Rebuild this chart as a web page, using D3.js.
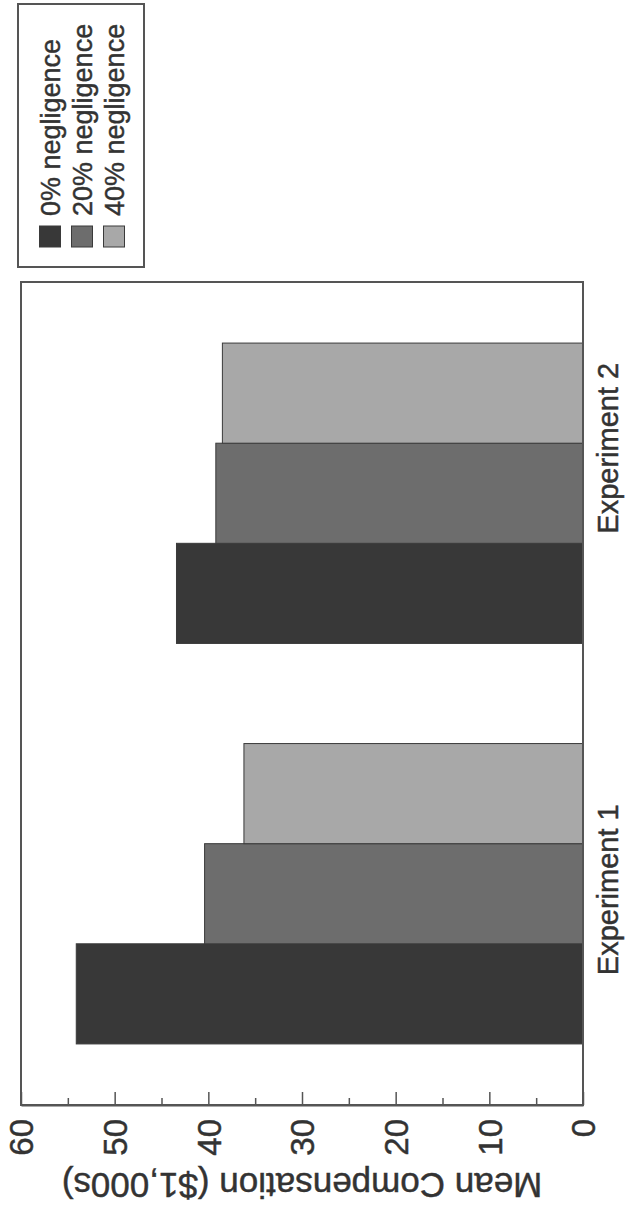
<!DOCTYPE html>
<html>
<head>
<meta charset="utf-8">
<script src="https://cdn.jsdelivr.net/npm/d3@7"></script>
<style>
  html, body { margin: 0; padding: 0; background: #ffffff; }
  text { font-family: "Liberation Sans", Arial, sans-serif; fill: #333333; stroke: #333333; stroke-width: 0.45px; }
</style>
</head>
<body>
<svg id="chart" width="629" height="1208"></svg>
<script>
// ---- data ----
const categories = ["Experiment 1", "Experiment 2"];
const seriesNames = ["0% negligence", "20% negligence", "40% negligence"];
const values0 = [54.1, 43.4];   // 0% negligence
const values20 = [40.4, 39.2];  // 20% negligence
const values40 = [36.2, 38.5];  // 40% negligence
const majorTicks = [0, 10, 20, 30, 40, 50, 60];
const minorTicks = [5, 15, 25, 35, 45, 55];
const axisTitle = "Mean Compensation ($1,000s)";

// ---- layout / style ----
const colors = ["#383838", "#6d6d6d", "#a8a8a8"];
const plot = { left: 21, right: 583, top: 282, bottom: 1105 };
const labelShift = [-4, -45];

const svg = d3.select("#chart");
const series = [values0, values20, values40];
const rows = [];
categories.forEach((c, i) => {
  seriesNames.forEach((s, j) => rows.push({ cat: c, key: s, value: series[j][i], j }));
});

// value axis runs horizontally (0 at right), categories vertically (rotated chart)
const x = d3.scaleLinear().domain([0, 60]).range([plot.right, plot.left]);
const y = d3.scaleBand().domain(categories).range([plot.bottom, plot.top])
  .paddingInner(0.25).paddingOuter(0.1525);
const ySub = d3.scaleBand().domain(seriesNames).range([y.bandwidth(), 0]);
const color = d3.scaleOrdinal().domain(seriesNames).range(colors);

// bars
svg.append("g").selectAll("rect").data(rows).join("rect")
  .attr("x", d => x(d.value))
  .attr("y", d => y(d.cat) + ySub(d.key))
  .attr("width", d => x(0) - x(d.value))
  .attr("height", ySub.bandwidth())
  .attr("fill", d => color(d.key))
  .attr("stroke", "#3a3a3a")
  .attr("stroke-width", 1);

// frame
svg.append("rect")
  .attr("x", plot.left).attr("y", plot.top)
  .attr("width", plot.right - plot.left).attr("height", plot.bottom - plot.top)
  .attr("fill", "none").attr("stroke", "#555555").attr("stroke-width", 2);

// major axis
const gAxis = svg.append("g").attr("transform", `translate(0,${plot.bottom})`)
  .call(d3.axisBottom(x).tickValues(majorTicks).tickSize(-13).tickSizeOuter(0).tickFormat(d3.format("d")));
gAxis.select(".domain").attr("stroke", "#555555").attr("stroke-width", 2);
gAxis.selectAll(".tick line").attr("stroke", "#555555").attr("stroke-width", 1.5);
gAxis.selectAll(".tick text")
  .attr("transform", "rotate(-90)")
  .attr("x", -14).attr("y", 0).attr("dy", "0.36em")
  .style("text-anchor", "end")
  .style("font-size", "33px")
  .attr("fill", "#333333");

// minor ticks
const gMinor = svg.append("g").attr("transform", `translate(0,${plot.bottom})`)
  .call(d3.axisBottom(x).tickValues(minorTicks).tickSize(-7).tickSizeOuter(0).tickFormat(""));
gMinor.select(".domain").remove();
gMinor.selectAll(".tick line").attr("stroke", "#555555").attr("stroke-width", 1.5);

// axis title (upside down, chart rotated)
svg.append("text")
  .attr("transform", `translate(${(plot.left + plot.right) / 2},${plot.bottom + 68}) rotate(180)`)
  .style("text-anchor", "middle")
  .style("font-size", "35px")
  .text(axisTitle);

// category labels
svg.append("g").selectAll("text").data(categories).join("text")
  .attr("transform", (d, i) => `translate(${plot.right + 35},${y(d) + y.bandwidth() / 2 + labelShift[i]}) rotate(-90)`)
  .style("text-anchor", "middle")
  .style("font-size", "29px")
  .text(d => d);

// legend
const legendBox = { left: 18, top: 4, right: 144, bottom: 267 };
svg.append("rect")
  .attr("x", legendBox.left).attr("y", legendBox.top)
  .attr("width", legendBox.right - legendBox.left).attr("height", legendBox.bottom - legendBox.top)
  .attr("fill", "none").attr("stroke", "#555555").attr("stroke-width", 2);
const lx = d3.scalePoint().domain(seriesNames).range([50, 114]);
const lg = svg.append("g").selectAll("g").data(seriesNames).join("g")
  .attr("transform", d => `translate(${lx(d)},0)`);
lg.append("rect")
  .attr("x", -10.5).attr("y", 226).attr("width", 21).attr("height", 21)
  .attr("fill", d => color(d)).attr("stroke", "#3a3a3a").attr("stroke-width", 1);
lg.append("text")
  .attr("transform", "translate(0,216) rotate(-90)")
  .attr("dy", "0.36em")
  .style("text-anchor", "start")
  .style("font-size", "27px")
  .text(d => d);
</script>
</body>
</html>
